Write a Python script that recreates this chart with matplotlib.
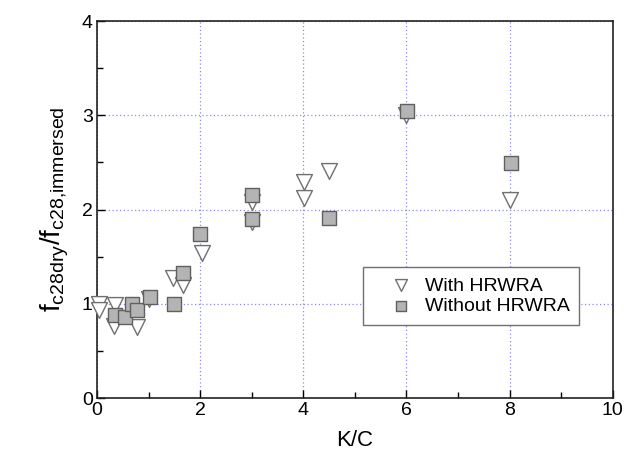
import matplotlib
matplotlib.use("Agg")
import matplotlib.pyplot as plt
from matplotlib.ticker import MultipleLocator

plt.rcParams['font.family'] = ['Liberation Sans', 'DejaVu Sans']
plt.rcParams['mathtext.fontset'] = 'custom'
plt.rcParams['mathtext.rm'] = 'Liberation Sans'

# With HRWRA (open triangles)
kc_with = [0.03, 0.03, 0.35, 0.33, 0.78, 1.0, 1.48, 1.67, 2.03, 3.0, 3.0, 4.02, 4.02, 4.5, 6.0, 8.0]
ratio_with = [1.0, 0.93, 0.99, 0.76, 0.75, 1.05, 1.27, 1.2, 1.54, 2.08, 1.87, 2.29, 2.12, 2.41, 3.0, 2.1]

# Without HRWRA (grey squares)
kc_without = [0.35, 0.54, 0.68, 0.78, 1.02, 1.5, 1.67, 2.0, 3.0, 3.0, 4.5, 6.02, 8.02]
ratio_without = [0.88, 0.86, 1.0, 0.93, 1.07, 1.0, 1.33, 1.74, 2.15, 1.9, 1.91, 3.05, 2.49]

fig = plt.figure(figsize=(6.24, 4.66), dpi=100)
ax = fig.add_axes([0.1554, 0.1459, 0.8266, 0.809])

ax.scatter(kc_with, ratio_with, marker='v', s=130, facecolor='white',
           edgecolor='#707070', linewidths=1.0, label='With HRWRA', zorder=3, clip_on=False)
ax.scatter(kc_without, ratio_without, marker='s', s=100, facecolor='#b4b4b4',
           edgecolor='#606060', linewidths=1.0, label='Without HRWRA', zorder=4)

ax.set_xlim(0, 10)
ax.set_ylim(0, 4)
ax.xaxis.set_major_locator(MultipleLocator(2))
ax.xaxis.set_minor_locator(MultipleLocator(1))
ax.yaxis.set_major_locator(MultipleLocator(1))
ax.yaxis.set_minor_locator(MultipleLocator(0.5))
ax.tick_params(which='both', direction='in', top=False, right=False, labelsize=14, width=1)
ax.tick_params(which='major', length=6, pad=3)
ax.tick_params(which='minor', length=4)
ax.grid(True, which='major', linestyle=(0, (1, 2)), color='#8c8ce6', linewidth=0.9)
for s in ax.spines.values():
    s.set_linewidth(1.2)
    s.set_color('#222222')

ax.set_xlabel('K/C', fontsize=16, labelpad=8)
ax.set_ylabel(r'$\mathregular{f_{c28dry}/f_{c28{,}immersed}}$', fontsize=20, labelpad=8)

leg = ax.legend(loc='upper left', bbox_to_anchor=(0.515, 0.347), fontsize=14,
                frameon=True, fancybox=False, edgecolor='#707070', framealpha=1,
                handletextpad=-0.3, borderpad=0.5, labelspacing=0.15, borderaxespad=0,
                markerscale=0.75, handlelength=3.0)
leg.get_frame().set_linewidth(1.0)

fig.savefig('out.png', dpi=100)
